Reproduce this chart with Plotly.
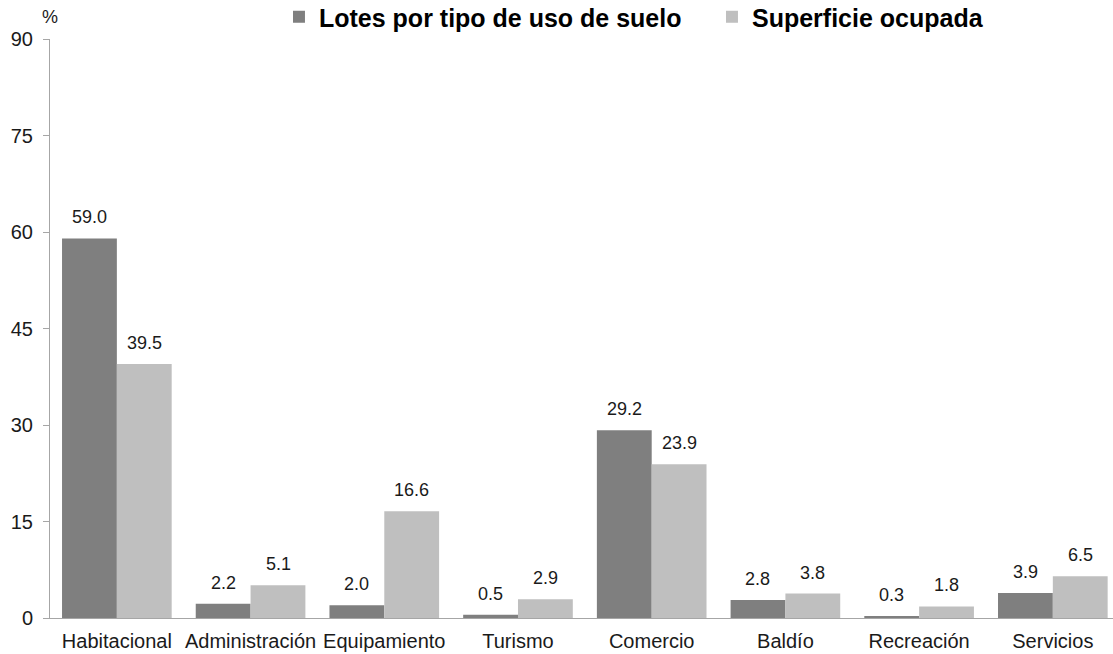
import plotly.graph_objects as go

categories = ["Habitacional", "Administración", "Equipamiento", "Turismo",
              "Comercio", "Baldío", "Recreación", "Servicios"]
lotes = [59.0, 2.2, 2.0, 0.5, 29.2, 2.8, 0.3, 3.9]
superficie = [39.5, 5.1, 16.6, 2.9, 23.9, 3.8, 1.8, 6.5]
y_ticks = [0, 15, 30, 45, 60, 75, 90]

font_family = "Liberation Sans, Arial, sans-serif"
label_font = dict(size=18, color="#1a1a1a", family=font_family)

fig = go.Figure()
fig.add_trace(go.Bar(
    x=categories, y=lotes, name="Lotes por tipo de uso de suelo",
    marker=dict(color="#7f7f7f", line=dict(width=0)),
))
fig.add_trace(go.Bar(
    x=categories, y=superficie, name="Superficie ocupada",
    marker=dict(color="#bfbfbf", line=dict(width=0)),
))

# Data labels above each bar (offset left/right for the grouped bars)
annotations = []
for series, shift in ((lotes, -27.5), (superficie, 27.5)):
    for cat, v in zip(categories, series):
        annotations.append(dict(
            x=cat, y=v, xref="x", yref="y", text=f"{v:.1f}",
            showarrow=False, xanchor="center", yanchor="bottom",
            xshift=shift, yshift=9, font=label_font,
        ))
annotations.append(dict(
    text="%", xref="paper", yref="paper", x=0, y=1.0, xanchor="center",
    yanchor="bottom", yshift=10, showarrow=False, font=label_font,
))

fig.update_layout(
    width=1113, height=654,
    margin=dict(l=50, r=0, t=39, b=36, autoexpand=False),
    paper_bgcolor="white", plot_bgcolor="white",
    barmode="group", bargap=0.18, bargroupgap=0,
    font=dict(family=font_family, color="#1a1a1a", size=18),
    showlegend=True,
    legend=dict(
        orientation="h", x=0.2154, y=0.974, xanchor="left", yanchor="middle",
        yref="container",
        font=dict(size=25, family=font_family, color="#000000", weight="bold"),
        itemwidth=30, entrywidth=388, bgcolor="rgba(0,0,0,0)",
    ),
    xaxis=dict(
        range=[-0.5, 7.45], showline=True, linecolor="#a6a6a6", linewidth=1,
        ticks="", tickfont=dict(size=20, color="#1a1a1a"), showgrid=False,
        zeroline=False, automargin=False, ticklabelstandoff=5,
    ),
    yaxis=dict(
        range=[0, 90], tickvals=y_ticks, showline=True, linecolor="#a6a6a6",
        linewidth=1, ticks="outside", ticklen=6, tickcolor="#a6a6a6",
        tickfont=dict(size=20, color="#1a1a1a"), showgrid=False, zeroline=False,
        automargin=False, ticklabelstandoff=6,
    ),
    annotations=annotations,
)

fig.write_html("out.html", config={"displayModeBar": False},
               post_script="document.body.style.margin='0';")
